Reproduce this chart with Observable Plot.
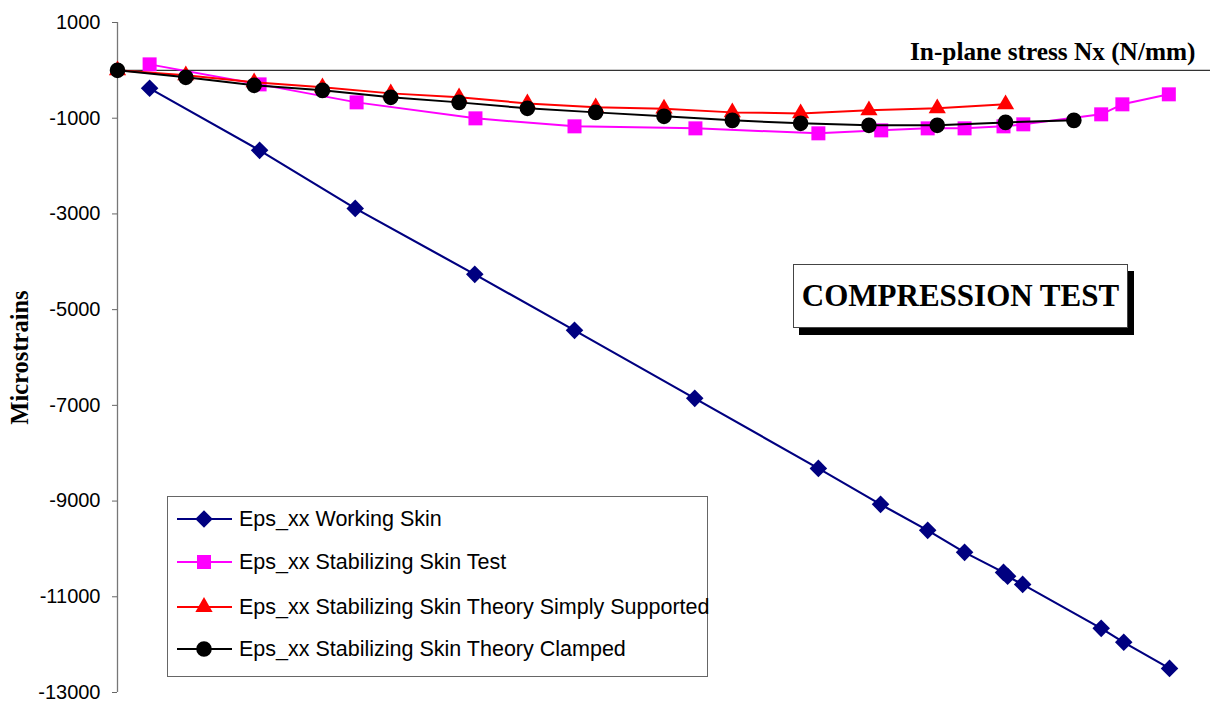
<!DOCTYPE html>
<html>
<head>
<meta charset="utf-8">
<script src="https://cdn.jsdelivr.net/npm/d3@7"></script>
<script src="https://cdn.jsdelivr.net/npm/@observablehq/plot@0.6"></script>
<style>
  html, body { margin: 0; padding: 0; background: white; }
  #wrap { position: relative; width: 1223px; height: 704px; overflow: hidden; }
  #wrap > svg { position: absolute; left: 0; top: 0; }
  #legend { position: absolute; left: 167px; top: 496px; width: 541px; height: 181px; box-sizing: border-box;
            border: 1px solid #666; background: white; font-family: "Liberation Sans", Arial, sans-serif; font-size: 21.5px; }
  .row { position: absolute; left: 0; height: 30px; display: flex; align-items: center; }
  .row svg { display: block; }
  .row span { margin-left: 5px; white-space: nowrap; color: #000; }
  #ctest { position: absolute; left: 793px; top: 264px; width: 335px; height: 64px; box-sizing: border-box;
           border: 1px solid #444; background: white; box-shadow: 6px 7px 0 #000;
           display: flex; align-items: center; justify-content: center;
           font-family: "Liberation Serif", "Times New Roman", serif; font-weight: bold; font-size: 31px; color: #000; }
</style>
</head>
<body>
<div id="wrap"></div>
<script>
// ---- Data ----
const seriesNames = [
  "Eps_xx Working Skin",
  "Eps_xx Stabilizing Skin Test",
  "Eps_xx Stabilizing Skin Theory Simply Supported",
  "Eps_xx Stabilizing Skin Theory Clamped"
];
const seriesColors = ["#000080", "#FF00FF", "#FF0000", "#000000"];
const seriesSymbols = ["square", "square", "triangle", "circle"];
const seriesRotate = [45, 0, 0, 0];

const workingX = [4.7, 20.8, 34.8, 52.3, 66.9, 84.5, 102.6, 111.7, 118.6, 124.0, 129.7, 130.3, 132.5, 144.0, 147.3, 154.0];
const workingY = [-376, -1672, -2884, -4263, -5433, -6854, -8317, -9069, -9612, -10072, -10490, -10573, -10741, -11660, -11952, -12496];

const testX = [4.7, 20.8, 35.0, 52.4, 66.9, 84.6, 102.6, 111.8, 118.6, 124.0, 129.7, 132.6, 144.0, 147.1, 153.9];
const testY = [125, -293, -669, -1003, -1170, -1212, -1316, -1254, -1212, -1212, -1170, -1128, -919, -710, -501];

const ssX = [0, 10, 20, 30, 40, 50, 60, 70, 80, 90, 100, 110, 120, 130];
const ssY = [0, -104, -251, -355, -481, -564, -690, -773, -800, -878, -899, -836, -794, -710];

const clX = [0, 10, 20, 30, 40, 50, 60, 70, 80, 90, 100, 110, 120, 130, 140];
const clY = [0, -146, -313, -418, -564, -669, -794, -878, -961, -1045, -1107, -1149, -1149, -1087, -1045];

const yTicks = [1000, -1000, -3000, -5000, -7000, -9000, -11000, -13000];
const xDomain = [0, 160];
const yDomain = [-13000, 1000];

const yLabel = "Microstrains";
const xLabel = "In-plane stress Nx (N/mm)";
const boxLabel = "COMPRESSION TEST";

// ---- Build tables ----
const toRows = (xs, ys) => xs.map((x, i) => ({x, y: ys[i]}));
const series = [
  toRows(workingX, workingY),
  toRows(testX, testY),
  toRows(ssX, ssY),
  toRows(clX, clY)
];
const markerR = [7, 7.9, 6.4, 7.8];
const lineW = [2.2, 2, 2, 2];

const marks = [
  Plot.ruleY([0], {stroke: "#333", strokeWidth: 1.3}),
  Plot.ruleX([0], {stroke: "#777", strokeWidth: 1.3}),
  Plot.axisY({ticks: yTicks, tickSize: 5, tickPadding: 12, stroke: "#666", tickFormat: d => String(d), label: null, fontSize: 20}),
  Plot.text([yLabel], {frameAnchor: "left", textAnchor: "middle", text: d => d, rotate: -90, dx: -97,
    fontFamily: "Liberation Serif, Times New Roman, serif", fontWeight: "bold", fontSize: 24.5, fill: "#000"}),
  Plot.text([xLabel], {frameAnchor: "top-right", textAnchor: "end", text: d => d, dx: -15, dy: 20,
    fontFamily: "Liberation Serif, Times New Roman, serif", fontWeight: "bold", fontSize: 25.3, fill: "#000"})
];
series.forEach((rows, i) => {
  marks.push(Plot.line(rows, {x: "x", y: "y", stroke: seriesColors[i], strokeWidth: lineW[i]}));
  marks.push(Plot.dot(rows, {x: "x", y: "y", symbol: () => seriesSymbols[i], rotate: seriesRotate[i], r: markerR[i], fill: seriesColors[i], stroke: "none"}));
});

const chart = Plot.plot({
  width: 1223,
  height: 704,
  marginLeft: 117,
  marginRight: 13,
  marginTop: 22,
  marginBottom: 12,
  x: {domain: xDomain, axis: null},
  y: {domain: yDomain, axis: null},
  style: {fontFamily: "Liberation Sans, Arial, sans-serif", fontSize: "20px", background: "white", color: "#000"},
  marks
});
const wrap = document.getElementById("wrap");
wrap.appendChild(chart);

// ---- Legend (inside the plot area) ----
const legend = document.createElement("div");
legend.id = "legend";
const rowTops = [7, 50, 95, 137];
const symMap = {square: d3.symbolSquare, triangle: d3.symbolTriangle, circle: d3.symbolCircle};
seriesNames.forEach((name, i) => {
  const row = document.createElement("div");
  row.className = "row";
  row.style.top = rowTops[i] + "px";
  const svg = d3.create("svg").attr("width", 66).attr("height", 30);
  svg.append("line").attr("x1", 9).attr("x2", 64).attr("y1", 15).attr("y2", 15)
    .attr("stroke", seriesColors[i]).attr("stroke-width", lineW[i]);
  svg.append("path").attr("transform", `translate(36,15) rotate(${seriesRotate[i]})`)
    .attr("d", d3.symbol(symMap[seriesSymbols[i]], Math.PI * markerR[i] * markerR[i])())
    .attr("fill", seriesColors[i]);
  row.appendChild(svg.node());
  const span = document.createElement("span");
  span.textContent = name;
  row.appendChild(span);
  legend.appendChild(row);
});
wrap.appendChild(legend);

const box = document.createElement("div");
box.id = "ctest";
box.textContent = boxLabel;
wrap.appendChild(box);
</script>
</body>
</html>
